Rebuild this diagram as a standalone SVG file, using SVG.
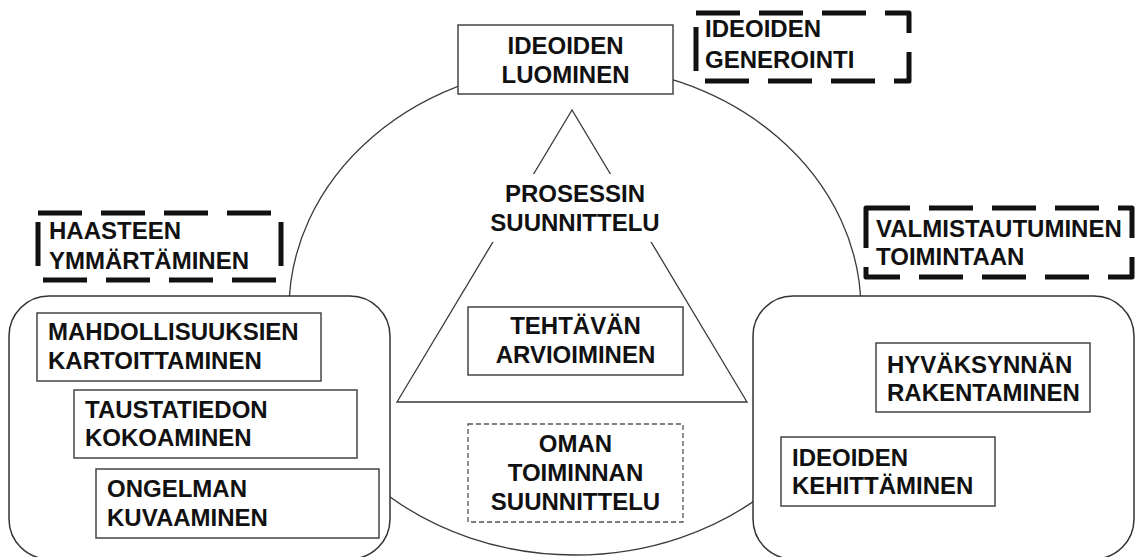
<svg xmlns="http://www.w3.org/2000/svg" width="1139" height="557" viewBox="0 0 1139 557">
  <style>
    .bg { fill: #ffffff; }
    .line { fill: none; stroke: #3a3a3a; stroke-width: 1.3; }
    .box { fill: #ffffff; stroke: #444444; stroke-width: 1.5; }
    .group { fill: #ffffff; stroke: #333333; stroke-width: 1.5; }
    .phase { fill: none; stroke: #111111; stroke-width: 5; stroke-dasharray: 44 19; stroke-linejoin: round; }
    .thin-dash { fill: #ffffff; stroke: #555555; stroke-width: 1.3; stroke-dasharray: 5 3; }
    .label { font-family: "Liberation Sans", Arial, sans-serif; font-weight: bold; font-size: 24px; fill: #111111; }
    .mid { text-anchor: middle; }
  </style>

  <rect class="bg" x="0" y="0" width="1139" height="557"/>

  <!-- connectors: the cycle ellipse and the process triangle -->
  <g id="connectors">
    <ellipse class="line" cx="575" cy="310" rx="286" ry="245"/>
    <polygon class="line" points="572,110 397,402 747,402"/>
  </g>

  <!-- central label inside the triangle -->
  <g id="prosessin-suunnittelu">
    <rect class="bg" x="476" y="174" width="200" height="68"/>
    <text class="label mid" x="575" y="202">PROSESSIN</text>
    <text class="label mid" x="575" y="231">SUUNNITTELU</text>
  </g>

  <g id="tehtavan-arvioiminen">
    <rect class="box" x="468" y="307" width="215" height="68"/>
    <text class="label mid" x="575.5" y="334">TEHTÄVÄN</text>
    <text class="label mid" x="575.5" y="363">ARVIOIMINEN</text>
  </g>

  <g id="oman-toiminnan-suunnittelu">
    <rect class="thin-dash" x="468" y="424" width="215" height="98"/>
    <text class="label mid" x="575.5" y="452">OMAN</text>
    <text class="label mid" x="575.5" y="481">TOIMINNAN</text>
    <text class="label mid" x="575.5" y="510">SUUNNITTELU</text>
  </g>

  <!-- top node -->
  <g id="ideoiden-luominen">
    <rect class="box" x="458" y="25" width="215" height="69"/>
    <text class="label mid" x="565.5" y="54">IDEOIDEN</text>
    <text class="label mid" x="565.5" y="83">LUOMINEN</text>
  </g>

  <g id="ideoiden-generointi">
    <rect class="phase" x="696" y="13" width="213" height="68"/>
    <text class="label" x="705" y="37">IDEOIDEN</text>
    <text class="label" x="705" y="68">GENEROINTI</text>
  </g>

  <!-- left group -->
  <g id="haasteen-ymmartaminen">
    <rect class="phase" x="38" y="213" width="243" height="67"/>
    <text class="label" x="49" y="239">HAASTEEN</text>
    <text class="label" x="49" y="269">YMMÄRTÄMINEN</text>
  </g>

  <g id="left-group">
    <rect class="group" x="9" y="296" width="381" height="263" rx="40" ry="40"/>
  </g>

  <g id="mahdollisuuksien-kartoittaminen">
    <rect class="box" x="37" y="313" width="284" height="68"/>
    <text class="label" x="48" y="340">MAHDOLLISUUKSIEN</text>
    <text class="label" x="48" y="369">KARTOITTAMINEN</text>
  </g>

  <g id="taustatiedon-kokoaminen">
    <rect class="box" x="74" y="390" width="283" height="68"/>
    <text class="label" x="85" y="418">TAUSTATIEDON</text>
    <text class="label" x="85" y="446">KOKOAMINEN</text>
  </g>

  <g id="ongelman-kuvaaminen">
    <rect class="box" x="96" y="469" width="283" height="69"/>
    <text class="label" x="107" y="497">ONGELMAN</text>
    <text class="label" x="107" y="526">KUVAAMINEN</text>
  </g>

  <!-- right group -->
  <g id="valmistautuminen-toimintaan">
    <rect class="phase" x="866" y="208" width="266" height="69"/>
    <text class="label" x="876" y="237">VALMISTAUTUMINEN</text>
    <text class="label" x="876" y="265">TOIMINTAAN</text>
  </g>

  <g id="right-group">
    <rect class="group" x="753" y="296" width="381" height="263" rx="40" ry="40"/>
  </g>

  <g id="hyvaksynnan-rakentaminen">
    <rect class="box" x="876" y="343" width="214" height="69"/>
    <text class="label" x="887" y="373">HYVÄKSYNNÄN</text>
    <text class="label" x="887" y="401">RAKENTAMINEN</text>
  </g>

  <g id="ideoiden-kehittaminen">
    <rect class="box" x="781" y="437" width="214" height="69"/>
    <text class="label" x="792" y="466">IDEOIDEN</text>
    <text class="label" x="792" y="494">KEHITTÄMINEN</text>
  </g>
</svg>
